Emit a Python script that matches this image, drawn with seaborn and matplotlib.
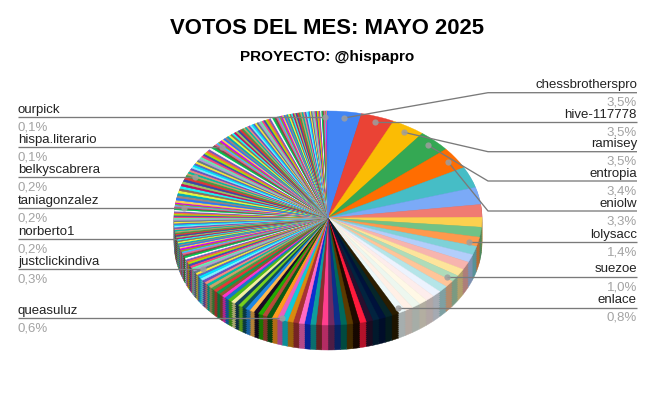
import matplotlib.pyplot as plt
import numpy as np
import seaborn as sns

# ------- data -------
title = 'VOTOS DEL MES: MAYO 2025'
subtitle = 'PROYECTO: @hispapro'

# share of votes (%), in clockwise order starting at 12 o'clock
top_values = [3.5, 3.5, 3.5, 3.4, 3.3, 3.2, 2.6, 1.9, 1.5, 1.5, 1.4,
              1.3, 1.2, 1.2, 1.1, 1.0, 1.0, 1.0, 0.95, 0.95, 0.9, 0.9, 0.85, 0.8]
mid_values = [0.75, 0.75, 0.7, 0.7, 0.7, 0.7, 0.7, 0.65, 0.65, 0.65, 0.65, 0.65,
              0.6, 0.6, 0.6, 0.6, 0.6, 0.6, 0.6,
              0.55, 0.55, 0.55, 0.5, 0.5, 0.5, 0.5, 0.5,
              0.45, 0.45, 0.45, 0.45, 0.45, 0.45, 0.4, 0.4, 0.4, 0.4, 0.4, 0.4,
              0.35, 0.35, 0.35, 0.35, 0.35, 0.3, 0.3, 0.3,
              0.3, 0.3, 0.3, 0.3, 0.25, 0.25, 0.25, 0.25, 0.25, 0.25, 0.25, 0.25, 0.25, 0.25,
              0.2, 0.2, 0.2, 0.2, 0.2, 0.2, 0.2, 0.2]
small_values = [0.2, 0.2, 0.2, 0.2, 0.2, 0.2, 0.2, 0.2, 0.2, 0.2, 0.2,
                0.2, 0.2, 0.2, 0.2, 0.2, 0.2, 0.2, 0.2, 0.2, 0.2, 0.2,
                0.18, 0.18, 0.18, 0.18, 0.18, 0.18, 0.18, 0.18, 0.18, 0.18, 0.18, 0.18, 0.18, 0.18,
                0.18, 0.18, 0.18, 0.18, 0.18, 0.18, 0.18, 0.18, 0.18, 0.18, 0.18, 0.18, 0.18, 0.18,
                0.14, 0.14, 0.14, 0.14, 0.14, 0.14, 0.14, 0.14, 0.14, 0.14, 0.14, 0.14, 0.14, 0.14,
                0.14, 0.14, 0.14, 0.14, 0.14, 0.14, 0.14, 0.14, 0.14, 0.14, 0.14, 0.14, 0.14, 0.14,
                0.14, 0.14, 0.14, 0.14, 0.14, 0.14, 0.14, 0.14, 0.14, 0.14, 0.14, 0.14]
tiny_values = [0.12, 0.12, 0.12, 0.12, 0.12, 0.12, 0.12, 0.12, 0.12, 0.12, 0.12, 0.12, 0.12, 0.12, 0.12,
               0.12, 0.12, 0.12, 0.12, 0.12, 0.12, 0.12, 0.12, 0.12, 0.12, 0.12, 0.12, 0.12, 0.12, 0.12,
               0.1, 0.1, 0.1, 0.1, 0.1, 0.1, 0.1, 0.1, 0.1, 0.1, 0.1, 0.1, 0.1, 0.1, 0.1, 0.1, 0.1, 0.1, 0.1, 0.1,
               0.1, 0.1, 0.1, 0.1, 0.1, 0.1, 0.1, 0.1, 0.1, 0.1, 0.1, 0.1, 0.1, 0.1, 0.1, 0.1, 0.1, 0.1, 0.1, 0.1,
               0.08, 0.08, 0.08, 0.08, 0.08, 0.08, 0.08, 0.08, 0.08, 0.08, 0.08, 0.08, 0.08, 0.08, 0.08, 0.08,
               0.08, 0.08, 0.08, 0.08, 0.08, 0.08, 0.08, 0.08, 0.08, 0.08, 0.08, 0.08, 0.08, 0.08, 0.08, 0.08,
               0.08, 0.08, 0.08, 0.08, 0.08, 0.08, 0.08, 0.08,
               0.06, 0.06, 0.06, 0.06, 0.06, 0.06, 0.06, 0.06, 0.06, 0.06, 0.06, 0.06, 0.06, 0.06, 0.06, 0.06,
               0.06, 0.06, 0.06, 0.06, 0.06, 0.06, 0.06, 0.06, 0.06, 0.06, 0.06, 0.06, 0.06, 0.06, 0.06,
               0.03, 0.03, 0.03, 0.03, 0.03, 0.03, 0.03, 0.03, 0.03, 0.03]

labelled_names = ['chessbrotherspro', 'hive-117778', 'ramisey', 'entropia', 'eniolw',
                  'lolysacc', 'suezoe', 'enlace', 'queasuluz', 'justclickindiva',
                  'norberto1', 'taniagonzalez', 'belkyscabrera', 'hispa.literario', 'ourpick']
labelled_shown = ['3,5%', '3,5%', '3,5%', '3,4%', '3,3%', '1,4%', '1,0%', '0,8%',
                  '0,6%', '0,3%', '0,2%', '0,2%', '0,2%', '0,1%', '0,1%']
# index of each labelled slice in the full list of values
labelled_slices = [0, 1, 2, 3, 4, 10, 15, 23, 43, 70, 92, 114, 142, 182, 323]

# ------- colours -------
first_colors = ['#4285F4', '#EA4335', '#FBBC04', '#34A853', '#FF6D01', '#46BDC6',
                '#7BAAF7', '#F07B72', '#FCD04F', '#71C287', '#FF994D', '#7ED1D7',
                '#B3CEFB', '#F7B4AE', '#FDE49B', '#AEDCBA', '#FFC599', '#B5E5E8',
                '#ECF3FE', '#FDEDEC', '#FFF8E6', '#EDF7EF', '#FFF0E6', '#EDF8F9',
                '#2B1D00', '#06262A', '#00123B', '#02233F', '#280F2E', '#FF1A3C',
                '#1F0A00', '#5C3A00', '#00695C', '#0D2F8A', '#702963', '#FF3F8E',
                '#8B2E2E', '#0F9D9D', '#0A2FD0', '#FF69C4', '#A83232', '#D98A0F',
                '#12C8D8', '#E85FC0', '#FF9A1E', '#0A5A14', '#B84A3A', '#22AA00',
                '#1A0A26', '#FFB84D', '#1E88E5', '#0D4F5C', '#76D01E', '#14405F',
                '#F5EFA0', '#4DBB1A', '#1577CC', '#FF33CC', '#8E5A2B', '#0E9E52']
cycle_colors = ['#E53935', '#43A047', '#C9A26B', '#00BFA5', '#F48A80', '#6A4FC2', '#80F0FF',
                '#00E5FF', '#5C6BC0', '#FFEB3B', '#607D8B', '#B39DDB', '#69F0AE', '#FF4081',
                '#3F51B5', '#AEEA00', '#FF6E40', '#7E57C2', '#FFFFFF', '#00C853', '#795548',
                '#F06292', '#40C4FF', '#9E9D24', '#D500F9', '#FFD54F', '#2979FF', '#A1887F',
                '#00ACC1', '#EEFF41', '#8D6E63', '#18FFFF', '#C51162', '#9CCC65', '#3949AB']

FIG_W, FIG_H = 654, 405
CX, CY, RX, RY, DEPTH = 328, 218, 154, 107, 25

values = top_values + mid_values + small_values + tiny_values


def slice_color(i):
    if i < len(first_colors):
        return first_colors[i]
    # thin slices read as wider bands in the reference, so neighbours share a colour
    step = i - len(first_colors) if i < 120 else (i - 120) // 2 + 60
    return cycle_colors[step % len(cycle_colors)]


top_rgb = np.array(sns.color_palette([slice_color(i) for i in range(len(values))]))
wall_rgb = top_rgb * 0.7

sns.set_theme(style='white')
plt.rcParams['font.family'] = ['Liberation Sans', 'DejaVu Sans']

fig = plt.figure(figsize=(FIG_W / 100, FIG_H / 100), dpi=100)
ax = fig.add_axes([0, 0, 1, 1])


def draw_pie(shades, drop):
    wedges, _ = ax.pie(values, colors=shades, center=(0, -drop), startangle=90, counterclock=False)
    for w in wedges:
        w.set_edgecolor(w.get_facecolor())  # closes the white seams between thin slices
        w.set_linewidth(0.3)


# side of the pie: the same pie repeated downwards in a darker shade
for d in np.arange(DEPTH, 0, -2):
    draw_pie(wall_rgb, d / RY)
draw_pie(top_rgb, 0)

# one axis unit = the pie radius, stretched into the flat ellipse
ax.set_aspect('auto')
ax.set_xlim(-CX / RX, (FIG_W - CX) / RX)
ax.set_ylim((CY - FIG_H) / RY, CY / RY)


def px(x, y):
    return (x - CX) / RX, (CY - y) / RY


fig.text(0.5, 1 - 29 / FIG_H, title, ha='center', va='center', fontsize=15.9, fontweight='bold', color='black')
fig.text(0.5, 1 - 56.5 / FIG_H, subtitle, ha='center', va='center', fontsize=11, fontweight='bold', color='black')

# ------- leader lines and labels -------
line_y = [92.7, 122, 151.7, 181, 211, 242.3, 277, 307.7, 318.3, 269, 239, 208.3, 177.3, 147.3, 117.3]
elbowed = ['chessbrotherspro', 'ramisey', 'entropia', 'eniolw']
total = sum(values)
starts = np.cumsum([0] + values[:-1])
for name, shown, idx, y in zip(labelled_names, labelled_shown, labelled_slices, line_y):
    mid = (starts[idx] + values[idx] / 2) / total * 2 * np.pi
    r = 1.0 if name == 'norberto1' else 0.94
    ax_x, ax_y = r * np.sin(mid), r * np.cos(mid)
    if name not in elbowed:
        ax_y = px(0, y)[1]  # these leaders run flat
    if idx < 30:
        xs = [px(637, y)[0], px(488, y)[0], ax_x]
        tx, ha = 637, 'right'
    else:
        xs = [px(18, y)[0], px(120, y)[0], ax_x]
        tx, ha = 18, 'left'
    ys = [px(0, y)[1], px(0, y)[1], ax_y]
    ax.plot(xs, ys, color='#7a7a7a', lw=0.95, solid_capstyle='butt')
    if name != 'norberto1':
        ax.scatter([ax_x], [ax_y], s=20, color='#9e9e9e', alpha=0.85, linewidths=0, zorder=3)
    ax.text(*px(tx, y - 7.5), name, ha=ha, va='center', fontsize=9.5, color='#222222')
    ax.text(*px(tx, y + 10), shown, ha=ha, va='center', fontsize=9.5, color='#a3a3a3')

fig.savefig('out.png', dpi=100)
